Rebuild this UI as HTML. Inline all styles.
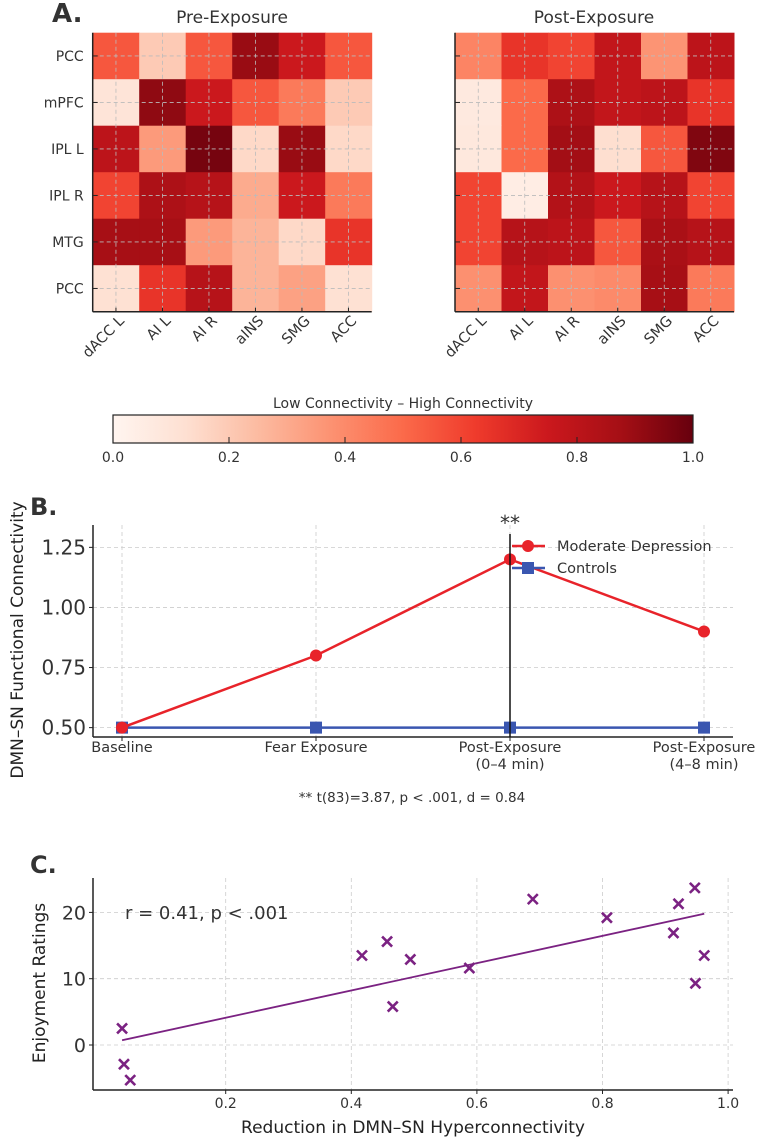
<!DOCTYPE html>
<html><head><meta charset="utf-8"><style>
html,body{margin:0;padding:0;background:#fff;}
svg{display:block;font-family:"DejaVu Sans","Liberation Sans",sans-serif;}
</style></head><body>
<svg id="fig" width="758" height="1143" viewBox="0 0 758 1143" xmlns="http://www.w3.org/2000/svg">
<text x="52" y="22" font-size="26" font-weight="bold" fill="#333">A.</text>
<text x="232" y="23" font-size="17" text-anchor="middle" fill="#333">Pre-Exposure</text>
<text x="594" y="23" font-size="17" text-anchor="middle" fill="#333">Post-Exposure</text>
<g id="hmL"></g>
<g id="hmR"></g>
<defs><linearGradient id="cbg" x1="0" x2="1" y1="0" y2="0">
<stop offset="0" stop-color="#fff5f0"/><stop offset="0.125" stop-color="#fee0d2"/><stop offset="0.25" stop-color="#fcbba1"/><stop offset="0.375" stop-color="#fc9272"/><stop offset="0.5" stop-color="#fb6a4a"/><stop offset="0.625" stop-color="#ef3b2c"/><stop offset="0.75" stop-color="#cb181d"/><stop offset="0.875" stop-color="#a50f15"/><stop offset="1" stop-color="#67000d"/></linearGradient></defs>
<text x="403" y="408" font-size="14" text-anchor="middle" fill="#333">Low Connectivity – High Connectivity</text>
<rect x="113" y="415" width="580" height="28" fill="url(#cbg)" stroke="#222" stroke-width="1.2"/>
<g id="cbticks"></g>
<text x="30" y="515" font-size="24" font-weight="bold" fill="#333">B.</text>
<g id="chartB"></g>
<text x="30" y="873" font-size="24" font-weight="bold" fill="#333">C.</text>
<g id="chartC"></g>
</svg>
<script>
const NS="http://www.w3.org/2000/svg";
function mk(tag,attrs,parent,txt){const e=document.createElementNS(NS,tag);for(const k in attrs)e.setAttribute(k,attrs[k]);if(txt!==undefined)e.textContent=txt;parent.appendChild(e);return e;}
const rowLabels=["PCC","mPFC","IPL L","IPL R","MTG","PCC"];
const colLabels=["dACC L","AI L","AI R","aINS","SMG","ACC"];
const preValues=[
[0.55,0.2,0.55,0.9,0.75,0.55],
[0.1,0.92,0.75,0.55,0.45,0.2],
[0.8,0.35,0.97,0.15,0.9,0.15],
[0.6,0.85,0.82,0.3,0.75,0.45],
[0.87,0.87,0.35,0.27,0.15,0.65],
[0.12,0.65,0.82,0.27,0.33,0.12]];
const postValues=[
[0.42,0.65,0.6,0.78,0.37,0.8],
[0.07,0.5,0.85,0.78,0.8,0.65],
[0.08,0.5,0.88,0.13,0.55,0.95],
[0.6,0.05,0.83,0.75,0.82,0.6],
[0.6,0.82,0.8,0.55,0.86,0.82],
[0.38,0.78,0.38,0.4,0.87,0.45]];
const cbTicks=[0,0.2,0.4,0.6,0.8,1.0];
const timeCats=[["Baseline"],["Fear Exposure"],["Post-Exposure","(0–4 min)"],["Post-Exposure","(4–8 min)"]];
const depValues=[0.5,0.8,1.2,0.9];
const ctrlValues=[0.5,0.5,0.5,0.5];
const bTicks=[0.5,0.75,1.0,1.25];
const scatterX=[0.035,0.038,0.048,0.417,0.457,0.466,0.494,0.588,0.689,0.807,0.913,0.921,0.947,0.948,0.962];
const scatterY=[2.5,-2.9,-5.3,13.5,15.6,5.8,12.9,11.6,22,19.2,16.9,21.3,23.7,9.3,13.5];
const cXTicks=[0.2,0.4,0.6,0.8,1.0];
const cYTicks=[0,10,20];

const stops=[[255,245,240],[254,224,210],[252,187,161],[252,146,114],[251,106,74],[239,59,44],[203,24,29],[165,15,21],[103,0,13]];
function reds(v){v=Math.max(0,Math.min(1,v));const p=v*8,i=Math.min(7,Math.floor(p)),f=p-i;const a=stops[i],b=stops[i+1];return `rgb(${a.map((c,k)=>Math.round(c+(b[k]-c)*f)).join(",")})`;}

function heatmap(g,vals,x0,showRows){
  const y0=32.7,cw=46.5,ch=46.5;
  vals.forEach((row,r)=>row.forEach((v,c)=>{
    const el=mk("rect",{x:x0+c*cw,y:y0+r*ch,width:cw+0.5,height:ch+0.5,fill:reds(v)},g);
    
    
  }));
  for(let i=0;i<6;i++){
    const cx=x0+(i+0.5)*cw, cy=y0+(i+0.5)*ch;
    mk("line",{x1:cx,x2:cx,y1:y0,y2:y0+6*ch,stroke:"#bbb","stroke-width":0.8,"stroke-dasharray":"4,3"},g);
    mk("line",{x1:x0,x2:x0+6*cw,y1:cy,y2:cy,stroke:"#bbb","stroke-width":0.8,"stroke-dasharray":"4,3"},g);
    mk("line",{x1:cx,x2:cx,y1:y0+6*ch,y2:y0+6*ch-4,stroke:"#222","stroke-width":1},g);
    mk("line",{x1:x0,x2:x0+5,y1:cy,y2:cy,stroke:"#222","stroke-width":1},g);
    const t=mk("text",{transform:`translate(${cx+9},${y0+6*ch+10}) rotate(-45)`,"font-size":14.5,"text-anchor":"end",fill:"#333"},g,colLabels[i]);
    
    
    if(showRows){
      const rt=mk("text",{x:x0-9,y:cy+5,"font-size":14,"text-anchor":"end",fill:"#333"},g,rowLabels[i]);
      
      
    }
  }
  mk("line",{x1:x0,x2:x0,y1:y0,y2:y0+6*ch,stroke:"#222","stroke-width":1.5},g);
  mk("line",{x1:x0,x2:x0+6*cw,y1:y0+6*ch,y2:y0+6*ch,stroke:"#222","stroke-width":1.5},g);
}
heatmap(document.getElementById("hmL"),preValues,92.7,true);
heatmap(document.getElementById("hmR"),postValues,455,false);

const cbg=document.getElementById("cbticks");
cbTicks.forEach(v=>{
  const x=113+v*580;
  if(v>0&&v<1)mk("line",{x1:x,x2:x,y1:443,y2:437,stroke:"#222","stroke-width":1},cbg);
  const t=mk("text",{x:x,y:462,"font-size":14,"text-anchor":"middle",fill:"#333"},cbg,v.toFixed(1));
  
  
});

// Chart B
(function(){
  const g=document.getElementById("chartB");
  const L=93,R=733,T=525,B=737,ymin=0.461,ymax=1.343;
  const xs=[122,316,510,704];
  const X=i=>xs[0]+i*(xs[3]-xs[0])/(timeCats.length-1);
  const Y=v=>B-(v-ymin)/(ymax-ymin)*(B-T);
  timeCats.forEach((c,i)=>{
    mk("line",{x1:X(i),x2:X(i),y1:T,y2:B,stroke:"#ccc","stroke-width":0.8,"stroke-dasharray":"4,3"},g);
    mk("line",{x1:X(i),x2:X(i),y1:B,y2:B+4,stroke:"#222"},g);
    c.forEach((s,k)=>{const t=mk("text",{x:X(i),y:752+k*17,"font-size":14.5,"text-anchor":"middle",fill:"#333"},g,s);
      
      });
  });
  bTicks.forEach(v=>{
    mk("line",{x1:L,x2:R,y1:Y(v),y2:Y(v),stroke:"#ccc","stroke-width":0.8,"stroke-dasharray":"4,3"},g);
    mk("line",{x1:L-4,x2:L,y1:Y(v),y2:Y(v),stroke:"#222"},g);
    const t=mk("text",{x:L-7,y:Y(v)+7,"font-size":20,"text-anchor":"end",fill:"#333"},g,v.toFixed(2));
    
    
  });
  mk("line",{x1:L,x2:L,y1:T,y2:B,stroke:"#222","stroke-width":1.5},g);
  mk("line",{x1:L,x2:R,y1:B,y2:B,stroke:"#222","stroke-width":1.5},g);
  const yl=mk("text",{transform:"translate(23,640) rotate(-90)","font-size":17,"text-anchor":"middle",fill:"#222"},g,"DMN–SN Functional Connectivity");
  
  
  const ctrl=mk("polyline",{points:ctrlValues.map((v,i)=>X(i)+","+Y(v)).join(" "),fill:"none",stroke:"#3a56b0","stroke-width":2.5},g);
  
  
  ctrlValues.forEach((v,i)=>{const m=mk("rect",{x:X(i)-6,y:Y(v)-6,width:12,height:12,fill:"#3a56b0"},g);
    
    });
  const dep=mk("polyline",{points:depValues.map((v,i)=>X(i)+","+Y(v)).join(" "),fill:"none",stroke:"#e8232a","stroke-width":2.5},g);
  
  
  depValues.forEach((v,i)=>{const m=mk("circle",{cx:X(i),cy:Y(v),r:6,fill:"#e8232a"},g);
    
    });
  mk("line",{x1:X(2),x2:X(2),y1:534,y2:B,stroke:"#111","stroke-width":1.5},g);
  const st=mk("text",{x:X(2),y:530,"font-size":20,"text-anchor":"middle",fill:"#333"},g,"**");
  
  
  mk("line",{x1:512,x2:545,y1:546,y2:546,stroke:"#e8232a","stroke-width":2.5},g);
  mk("circle",{cx:528,cy:546,r:6,fill:"#e8232a"},g);
  const l1=mk("text",{x:557,y:551,"font-size":14.5,fill:"#333"},g,"Moderate Depression");
  
  
  mk("line",{x1:512,x2:545,y1:568,y2:568,stroke:"#3a56b0","stroke-width":2.5},g);
  mk("rect",{x:522,y:562,width:12,height:12,fill:"#3a56b0"},g);
  const l2=mk("text",{x:557,y:573,"font-size":14.5,fill:"#333"},g,"Controls");
  
  
  const n=mk("text",{x:412,y:802,"font-size":13.5,"text-anchor":"middle",fill:"#333"},g,"** t(83)=3.87, p < .001, d = 0.84");
  
  
})();

// Chart C
(function(){
  const g=document.getElementById("chartC");
  const L=93,R=733,T=878,B=1090;
  const X=v=>100.1+v*628;
  const Y=v=>1045-v*6.63;
  cXTicks.forEach(v=>{
    mk("line",{x1:X(v),x2:X(v),y1:T,y2:B,stroke:"#ccc","stroke-width":0.8,"stroke-dasharray":"4,3"},g);
    mk("line",{x1:X(v),x2:X(v),y1:B,y2:B+4,stroke:"#222"},g);
    const t=mk("text",{x:X(v),y:1108,"font-size":14,"text-anchor":"middle",fill:"#333"},g,v.toFixed(1));
    
    
  });
  cYTicks.forEach(v=>{
    mk("line",{x1:L,x2:R,y1:Y(v),y2:Y(v),stroke:"#ccc","stroke-width":0.8,"stroke-dasharray":"4,3"},g);
    mk("line",{x1:L-4,x2:L,y1:Y(v),y2:Y(v),stroke:"#222"},g);
    const t=mk("text",{x:L-7,y:Y(v)+7,"font-size":19,"text-anchor":"end",fill:"#333"},g,String(v));
    
    
  });
  mk("line",{x1:L,x2:L,y1:T,y2:B,stroke:"#222","stroke-width":1.5},g);
  mk("line",{x1:L,x2:R,y1:B,y2:B,stroke:"#222","stroke-width":1.5},g);
  const yl=mk("text",{transform:"translate(45,983) rotate(-90)","font-size":17,"text-anchor":"middle",fill:"#222"},g,"Enjoyment Ratings");
  
  
  const xl=mk("text",{x:413,y:1133,"font-size":17,"text-anchor":"middle",fill:"#222"},g,"Reduction in DMN–SN Hyperconnectivity");
  
  
  const n=scatterX.length;
  const mx=scatterX.reduce((a,b)=>a+b,0)/n, my=scatterY.reduce((a,b)=>a+b,0)/n;
  let sxy=0,sxx=0;for(let i=0;i<n;i++){sxy+=(scatterX[i]-mx)*(scatterY[i]-my);sxx+=(scatterX[i]-mx)**2;}
  const b=sxy/sxx,a=my-b*mx;
  const x1=Math.min(...scatterX),x2=Math.max(...scatterX);
  const fl=mk("line",{x1:X(x1),y1:Y(a+b*x1),x2:X(x2),y2:Y(a+b*x2),stroke:"#7b2282","stroke-width":1.8},g);
  
  
  scatterX.forEach((xv,i)=>{
    const cx=X(xv),cy=Y(scatterY[i]),s=5;
    const p=mk("path",{d:`M${cx-s},${cy-s}L${cx+s},${cy+s}M${cx-s},${cy+s}L${cx+s},${cy-s}`,stroke:"#7b2282","stroke-width":2.6,fill:"none"},g);
    
    
  });
  const r=mk("text",{x:125,y:919,"font-size":18,fill:"#333"},g,"r = 0.41, p < .001");
  
  
})();
</script>
</body></html>
